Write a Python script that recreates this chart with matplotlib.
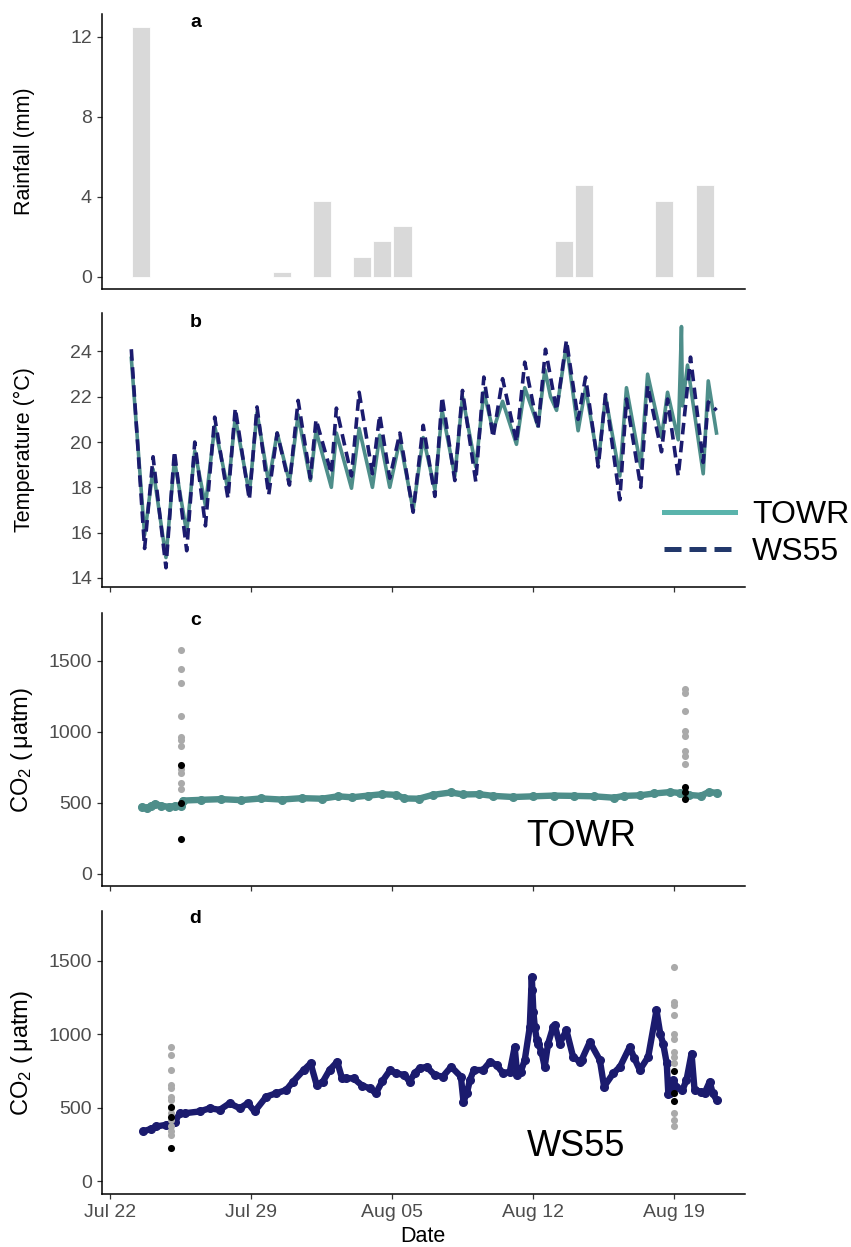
import numpy as np
import pandas as pd
import matplotlib
matplotlib.use('Agg')
import matplotlib.pyplot as plt
import matplotlib.dates as mdates
from matplotlib.lines import Line2D

plt.rcParams['font.family'] = ['Liberation Sans', 'DejaVu Sans']
plt.rcParams['mathtext.default'] = 'regular'

START = pd.Timestamp('2019-07-22')

# daily rainfall
rain_dates = ['2019-07-23', '2019-07-30', '2019-08-01', '2019-08-03', '2019-08-04',
              '2019-08-05', '2019-08-13', '2019-08-14', '2019-08-18', '2019-08-20']
rain_mm = [12.5, 0.25, 3.8, 1.0, 1.8, 2.55, 1.8, 4.6, 3.8, 4.6]

# water temperature, turning points (days after Jul 22)
towr_temp_day = [1.04, 1.70, 2.12, 2.76, 3.18, 3.79, 4.19, 4.72, 5.18, 5.84, 6.20, 6.90,
                 7.28, 7.86, 8.28, 8.89, 9.32, 9.93, 10.21, 10.97, 11.22, 11.97, 12.35,
                 13.01, 13.37, 13.87, 14.37, 15.03, 15.53, 16.11, 16.47, 17.10, 17.48,
                 18.14, 18.54, 19.00, 19.47, 20.16, 20.57, 21.23, 21.57, 21.85, 22.15,
                 22.64, 23.22, 23.59, 24.22, 24.58, 25.29, 25.62, 26.33, 26.67, 27.36,
                 27.66, 28.19, 28.35, 28.40, 28.65, 29.43, 29.68, 30.09]
towr_temp = [23.7, 15.9, 18.8, 14.9, 19.2, 16.0, 19.6, 17.2, 20.7, 17.9, 21.1, 17.7,
             21.3, 18.2, 20.4, 18.25, 21.2, 18.3, 20.5, 18.0, 20.4, 17.96, 20.6,
             18.0, 20.3, 18.0, 20.1, 17.0, 20.2, 17.9, 21.4, 18.5, 22.0,
             18.9, 22.2, 20.5, 21.8, 19.9, 22.4, 20.7, 23.2, 22.0, 21.4,
             24.3, 20.5, 22.4, 19.1, 22.0, 18.5, 22.4, 18.9, 23.0, 20.2,
             22.2, 20.1, 25.1, 21.6, 23.4, 18.6, 22.7, 20.4]
ws55_temp_day = [1.04, 1.70, 2.12, 2.76, 3.18, 3.79, 4.19, 4.72, 5.18, 5.84, 6.20, 6.90,
                 7.28, 7.86, 8.28, 8.89, 9.32, 9.93, 10.21, 10.97, 11.22, 11.97, 12.35,
                 13.01, 13.37, 13.87, 14.37, 15.03, 15.53, 16.11, 16.47, 17.10, 17.48,
                 18.14, 18.54, 19.00, 19.47, 20.16, 20.57, 21.23, 21.60, 22.15, 22.64,
                 23.22, 23.59, 24.22, 24.58, 25.29, 25.62, 26.33, 26.67, 27.36, 27.66,
                 28.19, 28.80, 29.43, 29.68, 30.09]
ws55_temp = [24.1, 15.3, 19.35, 14.45, 19.6, 15.2, 20.0, 16.3, 21.1, 17.5, 21.5, 17.45,
             21.55, 17.66, 20.4, 18.1, 21.84, 18.4, 21.0, 18.6, 21.5, 18.5, 22.2,
             18.6, 21.2, 18.4, 20.4, 16.9, 20.74, 17.6, 22.0, 18.3, 22.28,
             18.25, 22.87, 20.2, 22.8, 20.0, 23.53, 20.6, 24.1, 21.4, 24.5,
             21.0, 22.87, 18.9, 22.1, 17.45, 21.9, 18.0, 22.5, 19.57, 21.9,
             18.5, 23.75, 19.1, 21.77, 21.4]

# continuous CO2 (uatm)
towr_co2_day = [1.55, 1.8, 2.0, 2.2, 2.5, 2.9, 3.2, 3.5, 3.6, 4.5, 5.5, 6.5, 7.5, 8.5,
                9.5, 10.5, 11.3, 12.0, 12.8, 13.5, 14.2, 14.6, 15.3, 16.0, 16.9, 17.5,
                18.3, 19.0, 20.0, 21.0, 22.0, 23.0, 24.0, 25.0, 25.5, 26.3, 27.0, 27.8,
                28.3, 28.7, 29.3, 29.7, 30.1]
towr_co2 = [470, 462, 475, 492, 480, 470, 478, 480, 515, 520, 525, 518, 530, 522,
            532, 528, 545, 538, 550, 560, 555, 530, 528, 555, 572, 558,
            560, 548, 540, 545, 550, 548, 545, 535, 548, 552, 565, 575,
            568, 555, 548, 575, 570]
ws55_co2_day = [1.62, 2.0, 2.28, 2.77, 3.2, 3.44, 3.69, 4.43, 4.93, 5.43, 5.92, 6.42,
                6.83, 7.16, 7.74, 8.24, 8.73, 9.07, 9.6, 9.94, 10.24, 10.55, 10.88,
                11.26, 11.5, 11.71, 12.07, 12.5, 12.87, 13.18, 13.5, 13.89, 14.19,
                14.6, 14.85, 15.1, 15.35, 15.7, 16.1, 16.5, 16.92, 17.4, 17.53, 17.7,
                17.85, 18.04, 18.5, 18.85, 19.17, 19.5, 19.83, 20.07, 20.2, 20.36,
                20.57, 20.82, 20.92, 20.95, 21.0, 21.07, 21.17, 21.24, 21.4, 21.56,
                21.73, 21.98, 22.06, 22.3, 22.64, 22.97, 23.3, 23.39, 23.8, 24.3,
                24.51, 24.96, 25.3, 25.78, 26.0, 26.28, 26.7, 27.11, 27.3, 27.44,
                27.62, 27.7, 27.8, 27.94, 28.1, 28.4, 28.6, 28.85, 29.0, 29.3, 29.5,
                29.75, 29.9, 30.09]
ws55_co2 = [338, 355, 372, 383, 400, 462, 462, 474, 496, 485, 530, 496,
            530, 474, 575, 598, 620, 677, 756, 801, 655, 677, 756,
            812, 700, 699, 700, 650, 632, 598, 680, 756, 733,
            722, 677, 733, 767, 778, 722, 711, 778, 711, 541, 600,
            688, 756, 756, 812, 790, 733, 745, 913, 722, 740,
            823, 1049, 1387, 1300, 1150, 1049, 959, 935, 880, 778,
            936, 1049, 1060, 936, 1026, 846, 812, 823, 947, 823,
            643, 733, 778, 913, 840, 756, 846, 1162, 1000, 936,
            801, 590, 600, 688, 640, 620, 688, 868, 620, 609, 600,
            676, 600, 552]

# discrete samples: grey = individual, black = summary
towr_grey_day = [3.52, 28.53]
towr_grey = [[1575, 1446, 1345, 1111, 966, 942, 898, 738, 708, 638, 593],
             [1301, 1270, 1148, 1008, 973, 867, 832, 773]]
towr_black = [[769, 499, 244], [614, 574, 527]]
ws55_grey_day = [3.0, 28.0]
ws55_grey = [[913, 857, 756, 654, 632, 575, 553, 496, 462, 417, 372, 338, 316],
             [1459, 1218, 1196, 1128, 1004, 970, 880, 846, 801, 463, 417, 372]]
ws55_black = [[503, 435, 226], [749, 598, 546]]

TEAL = '#4e8e8a'
NAVY = '#1b1b6e'
TICK_GREY = '#4d4d4d'


def to_time(days):
    return START + pd.to_timedelta(np.asarray(days, dtype=float), unit='D')


def style_axis(ax):
    for side in ['top', 'right']:
        ax.spines[side].set_visible(False)
    for side in ['left', 'bottom']:
        ax.spines[side].set_linewidth(1.1)
        ax.spines[side].set_color('black')
    ax.tick_params(axis='both', length=3.5, width=0.9, color='#333333',
                   labelsize=14, labelcolor=TICK_GREY)
    ax.set_xlim(START + pd.Timedelta(days=-0.43), START + pd.Timedelta(days=31.49))
    ax.set_xticks(to_time([0, 7, 14, 21, 28]))
    ax.xaxis.set_major_formatter(mdates.DateFormatter('%b %d'))
    ax.yaxis.set_label_coords(-0.104, 0.5)


fig = plt.figure(figsize=(8.51, 12.47), dpi=100)
ax_a = fig.add_axes([0.1195, 0.7682, 0.7556, 0.2205])
ax_b = fig.add_axes([0.1195, 0.5293, 0.7556, 0.2197])
ax_c = fig.add_axes([0.1195, 0.2895, 0.7556, 0.2189])
ax_d = fig.add_axes([0.1195, 0.0425, 0.7556, 0.2269])

# a: rainfall
rain_x = pd.to_datetime(rain_dates) + pd.Timedelta(hours=12)
ax_a.bar(rain_x, rain_mm, width=0.9, color='#d9d9d9', edgecolor='white', linewidth=0.6)
style_axis(ax_a)
ax_a.set_ylim(-0.625, 13.125)
ax_a.set_yticks([0, 4, 8, 12])
ax_a.tick_params(axis='x', length=0, labelbottom=False)
ax_a.set_ylabel('Rainfall (mm)', fontsize=15.5)

# b: temperature
ax_b.plot(to_time(towr_temp_day), towr_temp, color=TEAL, lw=2.6, solid_joinstyle='round')
ax_b.plot(to_time(ws55_temp_day), ws55_temp, color=NAVY, lw=2.6, dashes=(3.2, 1.8))
style_axis(ax_b)
ax_b.set_ylim(13.6, 25.7)
ax_b.set_yticks([14, 16, 18, 20, 22, 24])
ax_b.tick_params(axis='x', labelbottom=False)
ax_b.set_ylabel('Temperature (°C)', fontsize=15.5)
handles = [Line2D([], [], color='#5ab4ac', lw=3.6),
           Line2D([], [], color='#22386b', lw=3.6, dashes=(3.4, 1.6))]
ax_b.legend(handles, ['TOWR', 'WS55'], loc='center left', bbox_to_anchor=(0.855, 0.195),
            frameon=False, fontsize=23, handlelength=2.2, handletextpad=0.55,
            labelspacing=0.22, borderaxespad=0)

# c and d: CO2
for ax, day, co2, col, g_day, g_val, b_val in [
        (ax_c, towr_co2_day, towr_co2, TEAL, towr_grey_day, towr_grey, towr_black),
        (ax_d, ws55_co2_day, ws55_co2, NAVY, ws55_grey_day, ws55_grey, ws55_black)]:
    ax.plot(to_time(day), co2, color=col, lw=4.6, marker='o', ms=5.5,
            solid_joinstyle='round', solid_capstyle='round')
    for d, gv, bv in zip(g_day, g_val, b_val):
        ax.scatter(to_time([d] * len(gv)), gv, s=26, color='#aaaaaa', zorder=3, lw=0)
        ax.scatter(to_time([d] * len(bv)), bv, s=26, color='black', zorder=4, lw=0)
    style_axis(ax)
    ax.set_ylim(-87.5, 1837.5)
    ax.set_yticks([0, 500, 1000, 1500])
    ax.set_ylabel('CO$_2$ (\u2009μatm)', fontsize=17,
                  family=['Liberation Sans', 'DejaVu Sans'])

ax_c.tick_params(axis='x', labelbottom=False)
ax_c.text(0.746, 0.18, 'TOWR', transform=ax_c.transAxes, fontsize=26,
          ha='center', va='center')
ax_d.text(0.738, 0.167, 'WS55', transform=ax_d.transAxes, fontsize=26,
          ha='center', va='center')
ax_d.set_xlabel('Date', fontsize=15.5, labelpad=4)

for ax, lab, yy in [(ax_a, 'a', 0.971), (ax_b, 'b', 0.967), (ax_c, 'c', 0.974), (ax_d, 'd', 0.975)]:
    ax.text(0.146, yy, lab, transform=ax.transAxes, fontsize=14, fontweight='bold',
            ha='center', va='center')

fig.savefig('out.png', dpi=100)
